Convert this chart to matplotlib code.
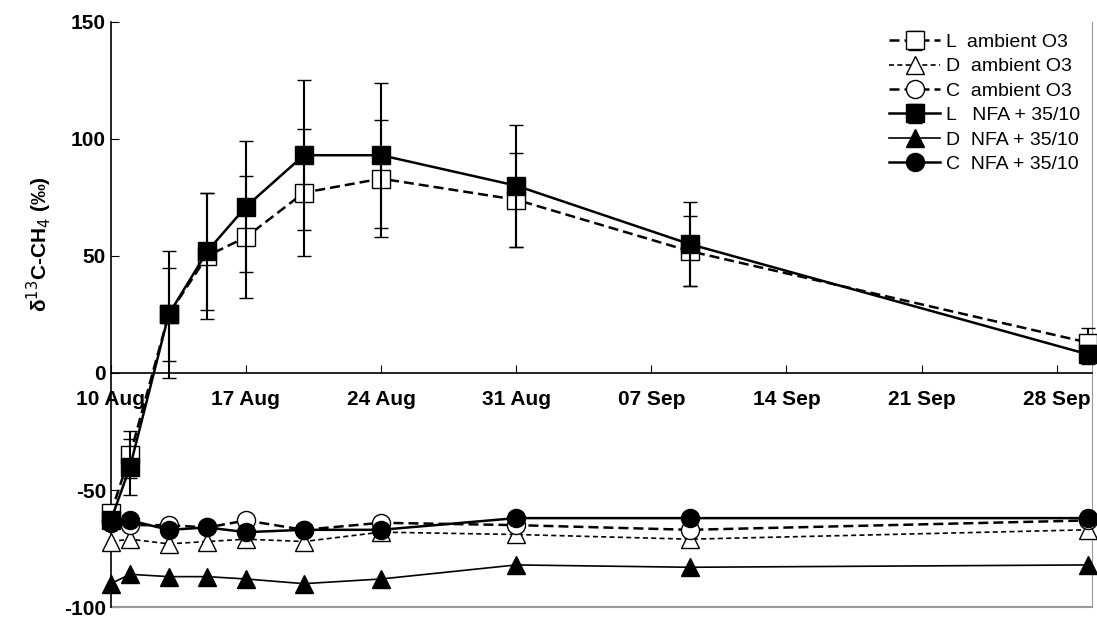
import datetime as dt
import matplotlib
matplotlib.use("Agg")
import matplotlib.pyplot as plt
import matplotlib.dates as mdates

plt.rcParams['font.family'] = ['Liberation Sans', 'DejaVu Sans']
plt.rcParams['axes.unicode_minus'] = False

# days after 10 Aug
days = [0, 1, 3, 5, 7, 10, 14, 21, 30, 50.6]
start = dt.datetime(2000, 8, 10)
dates = [start + dt.timedelta(days=d) for d in days]

L_amb = [-60, -35, 25, 50, 58, 77, 83, 74, 52, 13]
L_amb_err = [3, 10, 20, 27, 26, 27, 25, 20, 15, 6]
D_amb = [-72, -71, -73, -72, -71, -72, -68, -69, -71, -67]
C_amb = [-63, -65, -65, -66, -63, -67, -64, -65, -67, -63]
L_nfa = [-63, -40, 25, 52, 71, 93, 93, 80, 55, 8]
L_nfa_err = [3, 12, 27, 25, 28, 32, 31, 26, 18, 4]
D_nfa = [-90, -86, -87, -87, -88, -90, -88, -82, -83, -82]
C_nfa = [-64, -63, -67, -66, -68, -67, -67, -62, -62, -62]

fig = plt.figure(figsize=(10.97, 6.22), dpi=100)
ax = fig.add_axes([0.101, 0.024, 0.894, 0.941])

ms = 13
h1 = ax.errorbar(dates, L_amb, yerr=L_amb_err, fmt='s', ls=(0, (4, 2)), color='black', mfc='white',
                 mec='black', ms=ms, lw=1.8, capsize=5, elinewidth=1.5, label='L  ambient O3', zorder=3)
h2, = ax.plot(dates, D_amb, ls=(0, (3, 2)), marker='^', color='black', mfc='white', ms=ms, lw=1.2,
              label='D  ambient O3', zorder=3)
h3, = ax.plot(dates, C_amb, ls=(0, (4, 2)), marker='o', color='black', mfc='white', ms=ms, lw=1.8,
              label='C  ambient O3', zorder=3)
h4 = ax.errorbar(dates, L_nfa, yerr=L_nfa_err, fmt='s', ls='-', color='black', ms=ms, lw=1.8,
                 capsize=5, elinewidth=1.5, label='L   NFA + 35/10', zorder=4)
h5, = ax.plot(dates, D_nfa, '-^', color='black', ms=ms, lw=1.2, label='D  NFA + 35/10', zorder=4)
h6, = ax.plot(dates, C_nfa, '-o', color='black', ms=ms, lw=1.8, label='C  NFA + 35/10', zorder=4)
for art in ax.get_children():
    if hasattr(art, 'set_clip_on'):
        art.set_clip_on(False)

ax.set_ylim(-100, 150)
ax.set_yticks([-100, -50, 0, 50, 100, 150])
ax.set_xlim(start, start + dt.timedelta(days=50.8))
ticks = [start + dt.timedelta(days=7 * i) for i in range(8)]
ax.set_xticks(ticks)
ax.xaxis.set_major_formatter(mdates.DateFormatter('%d %b'))

ax.spines['bottom'].set_position(('data', 0))
ax.spines['bottom'].set_linewidth(1.2)
ax.spines['left'].set_linewidth(1.2)
ax.spines['top'].set_visible(False)
ax.spines['right'].set_color('#999999')
ax.axhline(-100, color='#999999', lw=1.5, clip_on=False)
ax.tick_params(axis='x', direction='in', length=6, pad=12, labelsize=15)
ax.tick_params(axis='y', direction='in', length=6, labelsize=15)
for lab in ax.get_xticklabels() + ax.get_yticklabels():
    lab.set_fontweight('bold')

ax.set_ylabel('δ$^{13}$C-CH$_4$ (‰)', fontsize=15, fontweight='bold', labelpad=2)
ax.yaxis.set_label_coords(-0.058, 0.62)

ax.legend([h1, h2, h3, h4, h5, h6], [h.get_label() for h in [h1, h2, h3, h4, h5, h6]],
          loc='upper right', frameon=False, fontsize=14, handlelength=2.6, handletextpad=0.3,
          labelspacing=0.35, borderaxespad=0.2)

fig.savefig('out.png', dpi=100)
